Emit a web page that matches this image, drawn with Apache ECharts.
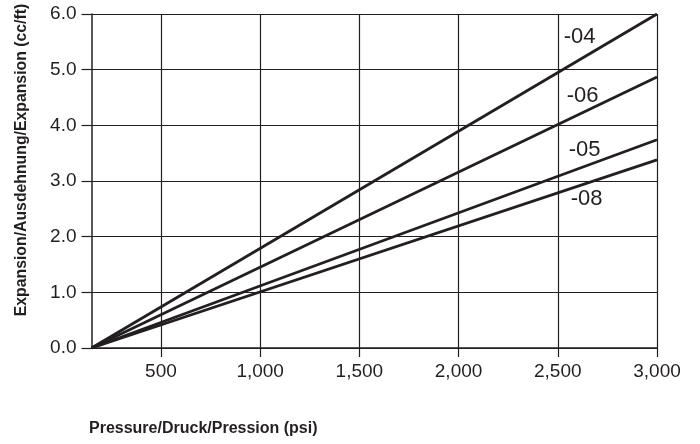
<!DOCTYPE html>
<html>
<head>
<meta charset="utf-8">
<script src="https://cdn.jsdelivr.net/npm/echarts@6/dist/echarts.min.js"></script>
<style>
html,body{margin:0;padding:0;background:#fff;}
#chart{width:700px;height:444px;}
</style>
</head>
<body>
<div id="chart"></div>
<script>
// Data
var pressure = [150, 3000];            // psi (lines start at the axis origin)
var exp04 = [0, 6.0];
var exp06 = [0, 4.87];
var exp05 = [0, 3.74];
var exp08 = [0, 3.38];
var seriesNames = ['-04', '-06', '-05', '-08'];
var xTicks = [500, 1000, 1500, 2000, 2500, 3000];
// label anchor (data coords) for each series name
var labelAt = [[2530, 5.58], [2545, 4.52], [2555, 3.55], [2565, 2.68]];

var ink = '#231f20';
var chart = echarts.init(document.getElementById('chart'), null, {renderer: 'canvas'});

function pairs(xs, ys) { return xs.map(function (x, i) { return [x, ys[i]]; }); }
var allY = [exp04, exp06, exp05, exp08];

var series = allY.map(function (ys, i) {
  return {
    name: seriesNames[i],
    type: 'line',
    data: pairs(pressure, ys),
    symbol: 'none',
    silent: true,
    lineStyle: {color: ink, width: 2.8},
    markPoint: {
      symbol: 'circle', symbolSize: 0, silent: true,
      data: [{coord: labelAt[i], value: seriesNames[i]}],
      label: {
        show: true, position: 'right', distance: 0,
        formatter: seriesNames[i],
        color: ink, fontFamily: '"Liberation Sans", sans-serif',
        fontSize: 22
      }
    }
  };
});

chart.setOption({
  animation: false,
  grid: {left: 91.5, right: 43, top: 14, bottom: 96, containLabel: false},
  xAxis: {
    type: 'value', min: 150, max: 3000,
    axisLine: {show: true, lineStyle: {color: ink, width: 1.5}},
    axisTick: {show: true, customValues: xTicks, length: 9, lineStyle: {color: ink, width: 1.2}},
    axisLabel: {
      customValues: xTicks, margin: 14, color: ink, fontSize: 19,
      fontFamily: '"Liberation Sans", sans-serif',
      formatter: function (v) { return v.toLocaleString('en-US'); }
    },
    splitLine: {show: true, lineStyle: {color: ink, width: 1.2}}
  },
  yAxis: {
    type: 'value', min: 0, max: 6, interval: 1,
    axisLine: {show: true, lineStyle: {color: ink, width: 1.5}},
    axisTick: {show: true, length: 10, lineStyle: {color: ink, width: 1.2}},
    axisLabel: {
      margin: 15, color: ink, fontSize: 19,
      fontFamily: '"Liberation Sans", sans-serif',
      formatter: function (v) { return v.toFixed(1); }
    },
    splitLine: {show: true, lineStyle: {color: ink, width: 1.2}}
  },
  graphic: [{
    type: 'text', x: 22, y: 160, rotation: Math.PI / 2,
    style: {
      text: 'Expansion/Ausdehnung/Expansion (cc/ft)',
      fill: ink, fontSize: 15.8, fontWeight: 'bold',
      fontFamily: '"Liberation Sans", sans-serif',
      align: 'center', verticalAlign: 'middle'
    }
  }, {
    type: 'text', x: 89, y: 429,
    style: {
      text: 'Pressure/Druck/Pression (psi)',
      fill: ink, fontSize: 16, fontWeight: 'bold',
      fontFamily: '"Liberation Sans", sans-serif',
      align: 'left', verticalAlign: 'middle'
    }
  }],
  series: series
});
</script>
</body>
</html>
